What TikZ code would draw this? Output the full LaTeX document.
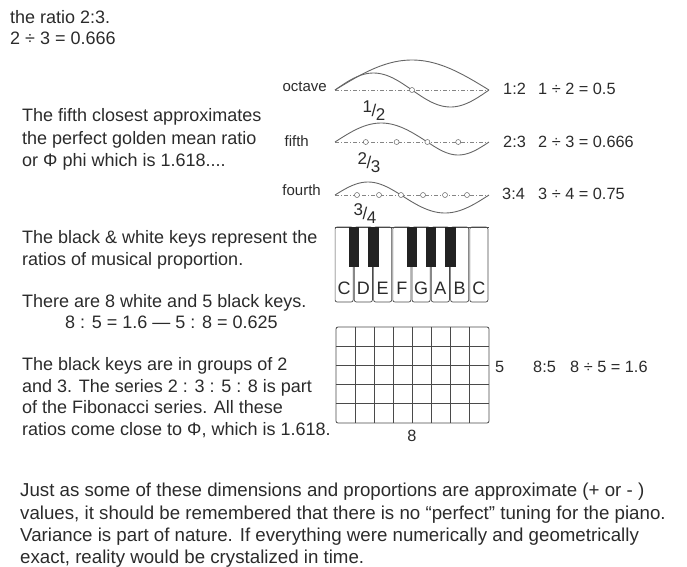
\documentclass[tikz,border=0pt]{standalone}
\usepackage{fontspec}
\setmainfont{Liberation Sans}
\definecolor{ink}{HTML}{2B2B2B}
\definecolor{wave}{HTML}{666666}
\definecolor{gridc}{HTML}{4A4A4A}
\definecolor{keyc}{HTML}{222222}
\newcommand\myfrac[2]{\raisebox{4pt}{#1}\kern-0.5pt/\kern-0.5pt\raisebox{-4pt}{#2}}
\begin{document}
\begin{tikzpicture}[x=1pt,y=-1pt,
  txt/.style={anchor=base west,inner sep=0pt,font=\fontsize{18}{22}\selectfont,text=ink},
  ptxt/.style={anchor=base west,inner sep=0pt,font=\fontsize{18.7}{22}\selectfont,text=ink},
  lbl/.style={anchor=base east,inner sep=0pt,font=\fontsize{15}{18}\selectfont,text=ink},
  rat/.style={anchor=base west,inner sep=0pt,font=\fontsize{16.3}{19}\selectfont,text=ink},
  frc/.style={anchor=center,inner sep=0pt,font=\fontsize{17}{19}\selectfont,text=ink},
  axisline/.style={draw=wave!80,line width=0.6pt,dash pattern=on 4pt off 2pt on 1pt off 2pt},
  wavec/.style={draw=wave,line width=0.9pt},
  dot/.style={circle,draw=wave,fill=white,line width=0.5pt,inner sep=0pt,minimum size=5pt},
  wkey/.style={draw=gridc,line width=0.7pt,fill=white,rounded corners=2pt},
  bkey/.style={fill=keyc,draw=keyc},
  klet/.style={anchor=center,inner sep=0pt,font=\fontsize{18}{20}\selectfont,text=ink}]
\useasboundingbox (0,0) rectangle (687,566);
% top text
\node[txt] (t1) at (10,23) {the ratio 2:3.};
\node[txt] (t2) at (10,44) {2 ÷ 3 = 0.666};
% block 1
\node[txt] (b1) at (22,121) {The fifth closest approximates};
\node[txt] (b2) at (22,144) {the perfect golden mean ratio};
\node[txt] (b3) at (22,166) {or Φ phi which is 1.618....};
% block 2
\node[txt] (c1) at (22,243) {The black \& white keys represent the};
\node[txt] (c2) at (22,265) {ratios of musical proportion.};
\node[txt] (c3) at (22,307) {There are 8 white and 5 black keys.};
\node[txt] (c4) at (65,328) {8 : 5 = 1.6 — 5 : 8 = 0.625};
\node[txt] (c5) at (22,370) {The black keys are in groups of 2};
\node[txt] (c6) at (22,392) {and 3. The series 2 : 3 : 5 : 8 is part};
\node[txt] (c7) at (22,413) {of the Fibonacci series. All these};
\node[txt] (c8) at (22,435) {ratios come close to Φ, which is 1.618.};
% bottom paragraph
\node[ptxt] (d1) at (20,496) {Just as some of these dimensions and proportions are approximate (+ or - )};
\node[ptxt] (d2) at (20,519) {values, it should be remembered that there is no “perfect” tuning for the piano.};
\node[ptxt] (d3) at (20,541) {Variance is part of nature. If everything were numerically and geometrically};
\node[ptxt] (d4) at (20,563) {exact, reality would be crystalized in time.};
% ---- octave
\node[lbl] (lo) at (327,91) {octave};
\coordinate (oL) at (335,90);
\coordinate (oR) at (489,90);
\draw[axisline] (oL) -- (oR);
\draw[wavec] plot[domain=0:1,samples=50] ({335+154*\x},{90-30*sin(180*\x)});
\draw[wavec] plot[domain=0:1,samples=60] ({335+154*\x},{90-17*sin(360*\x)});
\node[dot] (od) at (412,90) {};
\node[frc] (fo) at (374,111) {\myfrac{1}{2}};
\node[rat] (ro) at (503,94) {1:2};
\node[rat] (qo) at (538,94) {1 ÷ 2 = 0.5};
% ---- fifth
\node[lbl] (lf) at (309,146) {fifth};
\coordinate (fL) at (335,142);
\coordinate (fR) at (489,142);
\draw[axisline] (fL) -- (fR);
\draw[wavec] plot[domain=0:1,samples=40] ({335+92.4*\x},{142-19*sin(180*\x)});
\draw[wavec] plot[domain=0:1,samples=30] ({427.4+61.6*\x},{142+13*sin(180*\x)});
\foreach \i in {1,2,3,4} {\node[dot] (fd\i) at ({335+30.8*\i},142) {};}
\node[frc] (ff) at (369,163) {\myfrac{2}{3}};
\node[rat] (rf) at (503,147) {2:3};
\node[rat] (qf) at (538,147) {2 ÷ 3 = 0.666};
% ---- fourth
\node[lbl] (lq) at (321,195) {fourth};
\coordinate (qL) at (335,195);
\coordinate (qR) at (489,195);
\draw[axisline] (qL) -- (qR);
\draw[wavec] plot[domain=0:1,samples=30] ({335+66*\x},{195-13*sin(180*\x)});
\draw[wavec] plot[domain=0:1,samples=40] ({401+88*\x},{195+18*sin(180*\x)});
\foreach \i in {1,...,6} {\node[dot] (qd\i) at ({335+22*\i},195) {};}
\node[frc] (fq) at (365,214) {\myfrac{3}{4}};
\node[rat] (rq) at (502,199) {3:4};
\node[rat] (qq) at (538,199) {3 ÷ 4 = 0.75};
% ---- piano
\foreach \l [count=\i from 0] in {C,D,E,F,G,A,B,C} {
  \draw[wkey] ({334.5+19.25*\i+0.6},227) rectangle ({334.5+19.25*(\i+1)-0.6},302);
  \node[klet] (k\i) at ({334.5+19.25*(\i+0.5)},288) {\l};
}
\draw[gridc,line width=0.7pt] (334.5,227) -- (488.5,227);
\foreach \d in {1,2,4,5,6} {
  \fill[bkey] ({334.5+19.25*\d-4.7},227) rectangle ({334.5+19.25*\d+4.7},266);
}
% ---- grid
\draw[gridc,line width=0.8pt,rounded corners=2pt] (336,327) rectangle (489,423);
\foreach \i in {1,...,7} {\draw[gridc,line width=0.8pt] ({336+19.125*\i},327) -- ({336+19.125*\i},423);}
\foreach \j in {1,...,4} {\draw[gridc,line width=0.8pt] (336,{327+19.2*\j}) -- (489,{327+19.2*\j});}
\node[rat] (g5) at (495,372) {5};
\node[rat] (g85) at (533,372) {8:5};
\node[rat] (gq) at (570,372) {8 ÷ 5 = 1.6};
\node[rat,anchor=base] (g8) at (412,441) {8};
\end{tikzpicture}
\end{document}
